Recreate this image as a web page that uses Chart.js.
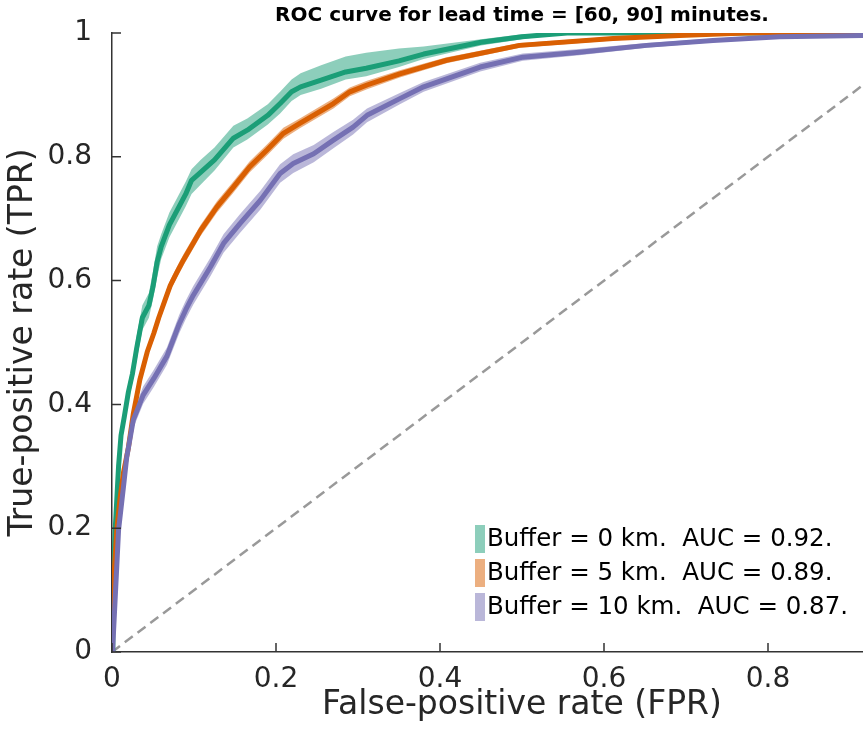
<!DOCTYPE html>
<html>
<head>
<meta charset="utf-8">
<script src="https://cdn.jsdelivr.net/npm/chart.js@4.4.0/dist/chart.umd.min.js"></script>
<style>
  html, body { margin: 0; padding: 0; background: #fff; overflow: hidden; }
  #wrap { width: 1044px; height: 739px; }
</style>
</head>
<body>
<div id="wrap"><canvas id="roc" width="1044" height="739"></canvas></div>
<script>
// Buffer = 0 km
const fpr0 = [0, 0.001, 0.004, 0.008, 0.011, 0.015, 0.020, 0.025, 0.030, 0.037, 0.045, 0.050, 0.055, 0.060, 0.070, 0.080, 0.090, 0.097, 0.108, 0.125, 0.148, 0.165, 0.190, 0.205, 0.219, 0.230, 0.255, 0.285, 0.310, 0.350, 0.380, 0.450, 0.500, 0.555, 1.0];
const tpr0 = [0, 0.100, 0.200, 0.300, 0.350, 0.380, 0.420, 0.450, 0.490, 0.540, 0.560, 0.590, 0.630, 0.655, 0.690, 0.715, 0.740, 0.762, 0.775, 0.795, 0.830, 0.843, 0.867, 0.886, 0.905, 0.913, 0.924, 0.937, 0.943, 0.955, 0.966, 0.985, 0.994, 1.0, 1.0];
const hi0  = [0, 0.105, 0.210, 0.315, 0.365, 0.395, 0.435, 0.465, 0.510, 0.560, 0.580, 0.615, 0.655, 0.675, 0.710, 0.735, 0.760, 0.780, 0.795, 0.815, 0.850, 0.862, 0.885, 0.905, 0.925, 0.935, 0.948, 0.962, 0.968, 0.975, 0.978, 0.990, 0.998, 1.0, 1.0];
const lo0  = [0, 0.095, 0.190, 0.285, 0.335, 0.365, 0.405, 0.435, 0.470, 0.520, 0.540, 0.570, 0.605, 0.635, 0.670, 0.695, 0.720, 0.740, 0.755, 0.778, 0.815, 0.828, 0.852, 0.870, 0.890, 0.900, 0.910, 0.925, 0.930, 0.945, 0.958, 0.980, 0.990, 1.0, 1.0];

// Buffer = 5 km
const fpr5 = [0, 0.002, 0.006, 0.010, 0.014, 0.020, 0.026, 0.034, 0.043, 0.051, 0.057, 0.064, 0.071, 0.079, 0.087, 0.108, 0.128, 0.148, 0.168, 0.189, 0.209, 0.229, 0.270, 0.290, 0.311, 0.351, 0.408, 0.497, 0.611, 0.692, 0.773, 1.0];
const tpr5 = [0, 0.115, 0.200, 0.250, 0.290, 0.330, 0.385, 0.440, 0.485, 0.515, 0.540, 0.566, 0.592, 0.613, 0.633, 0.681, 0.719, 0.751, 0.784, 0.811, 0.838, 0.854, 0.886, 0.905, 0.916, 0.934, 0.956, 0.980, 0.991, 0.996, 1.0, 1.0];
const hi5  = [0, 0.120, 0.207, 0.258, 0.298, 0.338, 0.393, 0.448, 0.494, 0.524, 0.549, 0.575, 0.601, 0.622, 0.642, 0.690, 0.728, 0.760, 0.793, 0.820, 0.847, 0.862, 0.894, 0.912, 0.923, 0.940, 0.961, 0.984, 0.994, 0.998, 1.0, 1.0];
const lo5  = [0, 0.110, 0.193, 0.242, 0.282, 0.322, 0.377, 0.432, 0.476, 0.506, 0.531, 0.557, 0.583, 0.604, 0.624, 0.672, 0.710, 0.742, 0.775, 0.802, 0.829, 0.846, 0.878, 0.898, 0.909, 0.928, 0.951, 0.976, 0.988, 0.994, 1.0, 1.0];

// Buffer = 10 km
const fpr10 = [0, 0.001, 0.004, 0.008, 0.014, 0.018, 0.026, 0.038, 0.051, 0.067, 0.082, 0.090, 0.099, 0.120, 0.136, 0.156, 0.181, 0.205, 0.221, 0.246, 0.270, 0.294, 0.311, 0.351, 0.380, 0.449, 0.501, 0.570, 0.652, 0.733, 0.814, 0.915, 1.0];
const tpr10 = [0, 0.010, 0.090, 0.197, 0.267, 0.315, 0.375, 0.415, 0.442, 0.478, 0.530, 0.553, 0.576, 0.622, 0.660, 0.692, 0.730, 0.773, 0.789, 0.805, 0.827, 0.848, 0.867, 0.894, 0.913, 0.945, 0.961, 0.969, 0.980, 0.988, 0.994, 0.996, 1.0];
const hi10  = [0, 0.015, 0.098, 0.207, 0.278, 0.327, 0.388, 0.429, 0.456, 0.492, 0.545, 0.568, 0.591, 0.637, 0.675, 0.707, 0.745, 0.788, 0.804, 0.819, 0.840, 0.860, 0.878, 0.903, 0.921, 0.952, 0.967, 0.974, 0.984, 0.991, 0.996, 0.998, 1.0];
const lo10  = [0, 0.005, 0.082, 0.187, 0.256, 0.303, 0.362, 0.401, 0.428, 0.464, 0.515, 0.538, 0.561, 0.607, 0.645, 0.677, 0.715, 0.758, 0.774, 0.791, 0.814, 0.836, 0.856, 0.885, 0.905, 0.938, 0.955, 0.964, 0.976, 0.985, 0.992, 0.994, 1.0];

// no-skill diagonal
const diagX = [0, 1];
const diagY = [0, 1];

const legendLabels = [
  'Buffer = 0 km.  AUC = 0.92.',
  'Buffer = 5 km.  AUC = 0.89.',
  'Buffer = 10 km.  AUC = 0.87.'
];
const xTickVals = [0, 0.2, 0.4, 0.6, 0.8, 1];
const xTickLabels = ['0', '0.2', '0.4', '0.6', '0.8', '1'];
const yTickVals = [0, 0.2, 0.4, 0.6, 0.8, 1];
const yTickLabels = ['0', '0.2', '0.4', '0.6', '0.8', '1'];

const lineColors = ['#1b9e77', '#d95f02', '#7570b3'];
const bandColors = ['rgba(27,158,119,0.5)', 'rgba(217,95,2,0.5)', 'rgba(117,112,179,0.5)'];

const pts = (xs, ys) => xs.map((x, i) => ({ x: x, y: ys[i] }));

const band = (xs, ys, i, upper) => ({
  data: pts(xs, ys),
  borderWidth: 0,
  pointRadius: 0,
  backgroundColor: bandColors[i],
  fill: upper ? '+1' : false,
  order: 20
});

const curve = (xs, ys, i) => ({
  label: legendLabels[i],
  data: pts(xs, ys),
  borderColor: lineColors[i],
  borderWidth: 5,
  borderJoinStyle: 'round',
  borderCapStyle: 'round',
  pointRadius: 0,
  fill: false,
  order: 3 - i
});

// inward tick marks, MATLAB style
const inwardTicks = {
  id: 'inwardTicks',
  afterDatasetsDraw(chart) {
    const { ctx, chartArea, scales } = chart;
    ctx.save();
    ctx.strokeStyle = '#333';
    ctx.lineWidth = 1.5;
    ctx.beginPath();
    xTickVals.forEach(v => {
      const px = scales.x.getPixelForValue(v);
      ctx.moveTo(px, chartArea.bottom);
      ctx.lineTo(px, chartArea.bottom - 9);
    });
    yTickVals.forEach(v => {
      const py = scales.y.getPixelForValue(v);
      ctx.moveTo(chartArea.left, py);
      ctx.lineTo(chartArea.left + 9, py);
    });
    ctx.stroke();
    ctx.restore();
  }
};

const bandLegend = {
  id: 'bandLegend',
  afterDraw(chart) {
    const ctx = chart.ctx;
    ctx.save();
    ctx.font = '24.5px "DejaVu Sans"';
    ctx.textBaseline = 'middle';
    ctx.textAlign = 'left';
    legendLabels.forEach((txt, i) => {
      const y = 539 + i * 34;
      ctx.fillStyle = bandColors[i];
      ctx.fillRect(475, y - 14, 10, 28);
      ctx.fillStyle = '#000';
      ctx.fillText(txt, 487, y + 1);
    });
    ctx.restore();
  }
};

Chart.defaults.font.family = '"DejaVu Sans", sans-serif';
Chart.defaults.color = '#262626';

new Chart(document.getElementById('roc'), {
  type: 'line',
  data: {
    datasets: [
      band(fpr0, hi0, 0, true),
      band(fpr0, lo0, 0, false),
      band(fpr5, hi5, 1, true),
      band(fpr5, lo5, 1, false),
      band(fpr10, hi10, 2, true),
      band(fpr10, lo10, 2, false),
      {
        data: pts(diagX, diagY),
        borderColor: '#999',
        borderWidth: 2.5,
        borderDash: [10, 6],
        pointRadius: 0,
        fill: false,
        order: 25
      },
      curve(fpr0, tpr0, 0),
      curve(fpr5, tpr5, 1),
      curve(fpr10, tpr10, 2)
    ]
  },
  options: {
    responsive: false,
    animation: false,
    devicePixelRatio: 1,
    layout: { padding: 0 },
    scales: {
      x: {
        type: 'linear',
        min: 0,
        max: 1,
        grid: { display: false },
        border: { display: true, color: '#333', width: 1.5 },
        afterBuildTicks: s => { s.ticks = xTickVals.map(v => ({ value: v })); },
        afterFit: s => { s.height = 87; },
        ticks: {
          font: { size: 28 },
          padding: 3,
          maxRotation: 0,
          callback: (v) => xTickLabels[xTickVals.indexOf(v)]
        },
        title: {
          display: true,
          text: 'False-positive rate (FPR)',
          font: { size: 33 },
          padding: { top: 0, bottom: 14 }
        }
      },
      y: {
        min: 0,
        max: 1,
        grid: { display: false },
        border: { display: true, color: '#333', width: 1.5 },
        afterBuildTicks: s => { s.ticks = yTickVals.map(v => ({ value: v })); },
        afterFit: s => { s.width = 112; },
        ticks: {
          font: { size: 28 },
          padding: 12,
          callback: (v) => yTickLabels[yTickVals.indexOf(v)]
        },
        title: {
          display: true,
          text: 'True-positive rate (TPR)',
          font: { size: 33 },
          padding: { top: 4, bottom: 0 }
        }
      },
      // empty right-hand box so the plot runs on past the window edge
      yRight: {
        type: 'linear',
        position: 'right',
        display: true,
        grid: { display: false },
        border: { display: false },
        ticks: { display: false },
        afterFit: s => { s.width = 112; }
      }
    },
    plugins: {
      legend: { display: false },
      tooltip: { enabled: false },
      title: {
        display: true,
        text: 'ROC curve for lead time = [60, 90] minutes.',
        color: '#000',
        font: { size: 20, weight: 'bold' },
        padding: { top: 4, bottom: 5 }
      }
    }
  },
  plugins: [inwardTicks, bandLegend]
});
</script>
</body>
</html>
